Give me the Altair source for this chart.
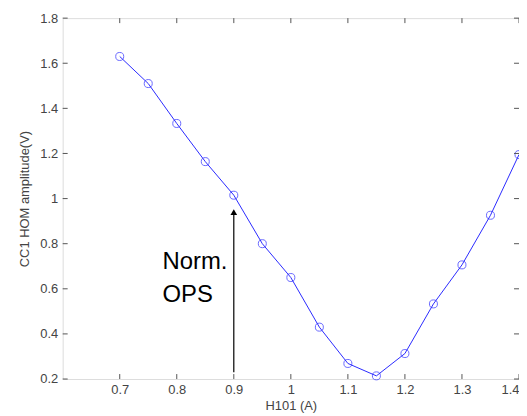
import altair as alt
import pandas as pd

x_vals = [0.7, 0.75, 0.8, 0.85, 0.9, 0.95, 1.0, 1.05, 1.1, 1.15, 1.2, 1.25, 1.3, 1.35, 1.4]
y_vals = [1.63, 1.51, 1.333, 1.164, 1.015, 0.80, 0.65, 0.43, 0.269, 0.214, 0.313, 0.533, 0.706, 0.926, 1.195]
x_ticks = [0.7, 0.8, 0.9, 1.0, 1.1, 1.2, 1.3, 1.4]
y_ticks = [0.2, 0.4, 0.6, 0.8, 1.0, 1.2, 1.4, 1.6, 1.8]
note_lines = ["Norm.", "OPS"]
note_x = [0.775, 0.775]
note_y = [0.72, 0.574]
arrow_x = [0.9]
arrow_y0 = [0.23]
arrow_y1 = [0.94]

W, H = 459, 363
df = pd.DataFrame({"x": x_vals, "y": y_vals})
xs = alt.Scale(domain=[0.6, 1.4], nice=False, zero=False)
ys = alt.Scale(domain=[0.2, 1.8], nice=False, zero=False)
lab = dict(labelFont="Liberation Sans", labelFontSize=13, labelColor="#444",
           titleFont="Liberation Sans", titleFontSize=13, titleColor="#444",
           titleFontWeight="normal", domain=False, ticks=False, grid=False)

xe = alt.X("x:Q", scale=xs, axis=alt.Axis(values=x_ticks, labelExpr="format(datum.value, '~g')",
                                          title="H101 (A)", labelPadding=5, titlePadding=3, **lab))
ye = alt.Y("y:Q", scale=ys, axis=alt.Axis(values=y_ticks, labelExpr="format(datum.value, '~g')",
                                          title="CC1 HOM amplitude(V)", labelPadding=5, titlePadding=8, **lab))

line = alt.Chart(df).mark_line(color="#2a2aff", strokeWidth=1).encode(x=xe, y=ye)
pts = alt.Chart(df).mark_point(shape="circle", color="#2a2aff", filled=False, size=65, strokeWidth=1).encode(x="x:Q", y="y:Q")

tick_len = 5
xt = pd.DataFrame({"t": x_ticks})
yt = pd.DataFrame({"t": y_ticks})
xb = alt.Chart(xt).mark_rule(color="#555").encode(x=alt.X("t:Q", scale=xs), y=alt.value(H), y2=alt.value(H - tick_len))
xtop = alt.Chart(xt).mark_rule(color="#555").encode(x=alt.X("t:Q", scale=xs), y=alt.value(0), y2=alt.value(tick_len))
yl = alt.Chart(yt).mark_rule(color="#555").encode(y=alt.Y("t:Q", scale=ys), x=alt.value(0), x2=alt.value(tick_len))
yr = alt.Chart(yt).mark_rule(color="#555").encode(y=alt.Y("t:Q", scale=ys), x=alt.value(W), x2=alt.value(W - tick_len))

adf = pd.DataFrame({"x": arrow_x, "y0": arrow_y0, "y1": arrow_y1})
arrow = alt.Chart(adf).mark_rule(color="black", strokeWidth=1.2).encode(
    x=alt.X("x:Q", scale=xs), y=alt.Y("y0:Q", scale=ys), y2="y1:Q")
head = alt.Chart(adf).mark_point(shape="triangle-up", filled=True, color="black", size=45, opacity=1).encode(
    x=alt.X("x:Q", scale=xs), y=alt.Y("y1:Q", scale=ys))

ndf = pd.DataFrame({"t": note_lines, "x": note_x, "y": note_y})
note = alt.Chart(ndf).mark_text(align="left", baseline="middle", font="Liberation Sans", fontSize=24, color="black").encode(
    x=alt.X("x:Q", scale=xs), y=alt.Y("y:Q", scale=ys), text="t:N")

chart = alt.layer(line, pts, xb, xtop, yl, yr, arrow, head, note).properties(
    width=W, height=H,
    autosize=alt.AutoSizeParams(type="none"),
    padding={"left": 55, "top": 9, "right": 0, "bottom": 36},
).configure_view(stroke="#666", strokeWidth=1.5).configure(background="white")

chart.save("out.html", embed_options={"renderer": "svg", "actions": False})
